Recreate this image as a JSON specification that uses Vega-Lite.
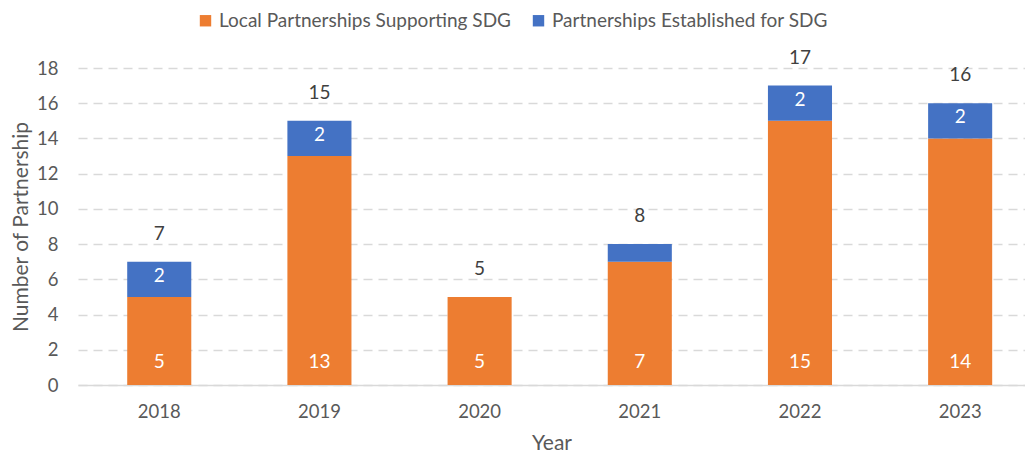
{
  "$schema": "https://vega.github.io/schema/vega-lite/v6.json",
  "autosize": {"type": "none"},
  "width": 947,
  "height": 317,
  "padding": {"left": 78, "top": 68, "right": 0, "bottom": 73},
  "background": "white",
  "config": {
    "view": {"stroke": null},
    "font": "Lato",
    "axis": {"labelFont": "Lato", "titleFont": "Lato", "labelColor": "#595959", "titleColor": "#595959", "titleFontWeight": "normal"},
    "legend": {"labelFont": "Lato"}
  },
  "data": {
    "values": [
      {"year": "2018", "Local Partnerships Supporting SDG": 5, "Partnerships Established for SDG": 2, "total": 7},
      {"year": "2019", "Local Partnerships Supporting SDG": 13, "Partnerships Established for SDG": 2, "total": 15},
      {"year": "2020", "Local Partnerships Supporting SDG": 5, "Partnerships Established for SDG": 0, "total": 5},
      {"year": "2021", "Local Partnerships Supporting SDG": 7, "Partnerships Established for SDG": 1, "total": 8},
      {"year": "2022", "Local Partnerships Supporting SDG": 15, "Partnerships Established for SDG": 2, "total": 17},
      {"year": "2023", "Local Partnerships Supporting SDG": 14, "Partnerships Established for SDG": 2, "total": 16}
    ]
  },
  "encoding": {
    "x": {
      "field": "year", "type": "nominal", "title": "Year",
      "scale": {"paddingInner": 0.6, "paddingOuter": 0.256, "align": 0.6},
      "axis": {"labelAngle": 0, "labelFontSize": 18.5, "labelPadding": 17, "ticks": false, "domain": true, "domainColor": "#d9d9d9", "domainWidth": 1.5, "titleFontSize": 21, "titlePadding": 12, "grid": false}
    }
  },
  "layer": [
    {
      "transform": [{"fold": ["Local Partnerships Supporting SDG", "Partnerships Established for SDG"], "as": ["series", "value"]}],
      "mark": {"type": "bar"},
      "encoding": {
        "y": {
          "field": "value", "type": "quantitative", "stack": "zero", "title": "Number of Partnership",
          "scale": {"domain": [0, 18], "nice": false},
          "axis": {"values": [0, 2, 4, 6, 8, 10, 12, 14, 16, 18], "tickCount": 10, "labelOverlap": false, "labelFontSize": 18.5, "labelPadding": 20, "ticks": false, "domain": false, "gridColor": "#d9d9d9", "gridDash": [9, 6], "gridWidth": 1.5, "titleFontSize": 21, "titlePadding": 5}
        },
        "color": {
          "field": "series", "type": "nominal",
          "scale": {"domain": ["Local Partnerships Supporting SDG", "Partnerships Established for SDG"], "range": ["#ED7D31", "#4472C4"]},
          "legend": {"title": null, "orient": "none", "legendX": 118, "legendY": -57, "direction": "horizontal", "symbolType": "square", "symbolSize": 130, "symbolStrokeWidth": 0, "symbolOpacity": 1, "labelFontSize": 19, "labelLimit": 0, "labelColor": "#595959", "columnPadding": 18, "labelOffset": 4}
        },
        "order": {"field": "series", "sort": "ascending"}
      }
    },
    {
      "mark": {"type": "text", "fontSize": 19, "color": "#404040", "baseline": "middle", "dy": -28},
      "encoding": {
        "y": {"field": "total", "type": "quantitative", "axis": {"values": [0, 2, 4, 6, 8, 10, 12, 14, 16, 18], "tickCount": 10, "labelOverlap": false, "labelFontSize": 18.5, "labelPadding": 20, "ticks": false, "domain": false, "gridColor": "#d9d9d9", "gridDash": [9, 6], "gridWidth": 1.5, "titleFontSize": 21, "titlePadding": 5}},
        "text": {"field": "total", "type": "quantitative"}
      }
    },
    {
      "transform": [{"filter": "datum['Partnerships Established for SDG'] >= 2"}],
      "mark": {"type": "text", "fontSize": 19, "color": "white", "baseline": "middle", "dy": 14},
      "encoding": {
        "y": {"field": "total", "type": "quantitative"},
        "text": {"field": "Partnerships Established for SDG", "type": "quantitative"}
      }
    },
    {
      "mark": {"type": "text", "fontSize": 19, "color": "white", "baseline": "middle", "dy": -23},
      "encoding": {
        "y": {"datum": 0},
        "text": {"field": "Local Partnerships Supporting SDG", "type": "quantitative"}
      }
    }
  ]
}
